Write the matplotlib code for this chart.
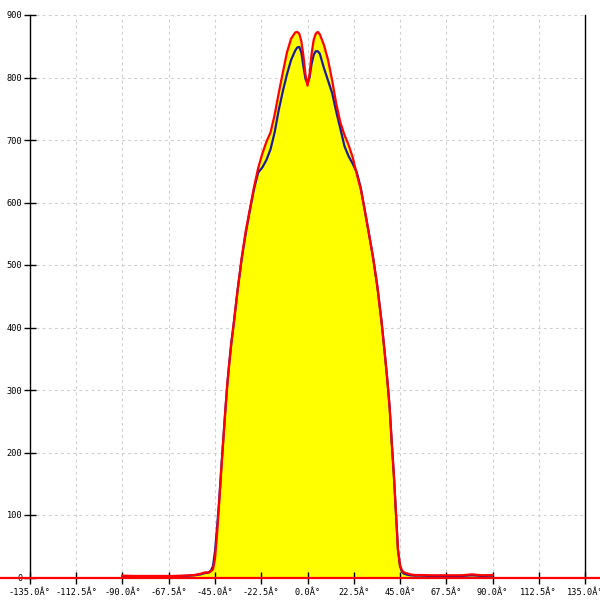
import matplotlib
matplotlib.use("Agg")
import matplotlib.pyplot as plt
import numpy as np

angles = [-90, -85, -80, -75, -70, -65, -60, -55, -52, -50, -48, -47, -46, -45, -44, -43, -42, -41,
          -40, -39, -38, -37, -36, -34, -32, -30, -28, -26, -24, -22, -20, -18, -16, -14, -12, -10,
          -8, -6, -5, -4, -3, -2, -1, 0, 1, 2, 3, 4, 5, 6, 8, 10, 12, 14, 16, 18, 20, 22, 24, 26,
          28, 30, 32, 34, 36, 37, 38, 39, 40, 41, 42, 43, 44, 45, 46, 47, 48, 50, 52, 55, 60, 65,
          70, 75, 80, 85, 90]

red_values = [3, 2.5, 2.5, 2.5, 2.5, 2.5, 3, 4, 6, 8, 8, 10, 13, 30, 70, 118, 170, 218,
              266, 310, 345, 377, 403, 460, 512, 555, 590, 625, 655, 678, 697, 712, 740, 775, 808, 840,
              862, 872, 873, 870, 858, 835, 805, 787, 805, 838, 860, 870, 873, 869, 852, 828, 795, 758, 728, 708, 692, 672, 645, 620,
              585, 548, 510, 465, 410, 378, 345, 310, 270, 215, 165, 105, 45, 20, 11, 8, 7, 5, 4, 4, 3.5, 3.5,
              3.5, 3.5, 5, 3.5, 4]

blue_values = [2, 2, 2, 2, 2, 2, 2.5, 3.5, 5, 7, 8, 11, 18, 42, 80, 122, 172, 220,
               266, 310, 345, 377, 403, 460, 510, 552, 588, 622, 648, 656, 668, 685, 712, 748, 778, 805,
               828, 843, 848, 849, 840, 818, 798, 790, 800, 822, 836, 842, 842, 838, 815, 795, 775, 745, 718, 690, 674, 662, 648, 622,
               585, 548, 510, 465, 410, 378, 345, 310, 270, 215, 165, 105, 45, 18, 9, 6, 5, 3.5, 3, 3, 2.5, 2.5,
               2.5, 2.5, 3.5, 2.5, 3]

x_ticks = [-135.0, -112.5, -90.0, -67.5, -45.0, -22.5, 0.0, 22.5, 45.0, 67.5, 90.0, 112.5, 135.0]
x_tick_labels = [f"{t:.1f}Â°" for t in x_ticks]
y_ticks = [0, 100, 200, 300, 400, 500, 600, 700, 800, 900]

fig = plt.figure(figsize=(6, 6), dpi=100)
ax = fig.add_axes([30/600, 22.5/600, 555/600, 562.5/600])
ax.set_xlim(-135, 135)
ax.set_ylim(0, 900)

mono = "DejaVu Sans Mono"

# grid
for t in x_ticks[1:-1]:
    ax.axvline(t, color="#cfcfcf", lw=0.8, ls=(0, (2.5, 3)), zorder=0)
for t in y_ticks[1:]:
    ax.axhline(t, color="#cfcfcf", lw=0.8, ls=(0, (2.5, 3)), zorder=0)

ax.fill_between(angles, red_values, 0, color="#ffff00", lw=0, zorder=1)
ax.plot(angles, blue_values, color="#1a1a9c", lw=1.6, zorder=3)
ax.axhline(0, xmin=-30/555, xmax=570/555, color="#ff0000", lw=1.6, clip_on=False, zorder=4)
ax.plot(angles, red_values, color="#ff0000", lw=1.6, zorder=4)

ax.spines["top"].set_visible(False)
ax.spines["bottom"].set_visible(False)
for s in ("left", "right"):
    ax.spines[s].set_color("black")
    ax.spines[s].set_linewidth(1.0)

ax.set_xticks(x_ticks)
ax.set_xticklabels(x_tick_labels, fontfamily=mono, fontsize=6.2)
ax.set_yticks(y_ticks)
ax.set_yticklabels([str(v) for v in y_ticks], fontfamily=mono, fontsize=6.2)
ax.tick_params(axis="x", direction="inout", length=9, width=1.0, pad=3, zorder=5)
ax.tick_params(axis="y", direction="inout", length=9, width=1.0, pad=1)

fig.savefig("out.png", dpi=100)
